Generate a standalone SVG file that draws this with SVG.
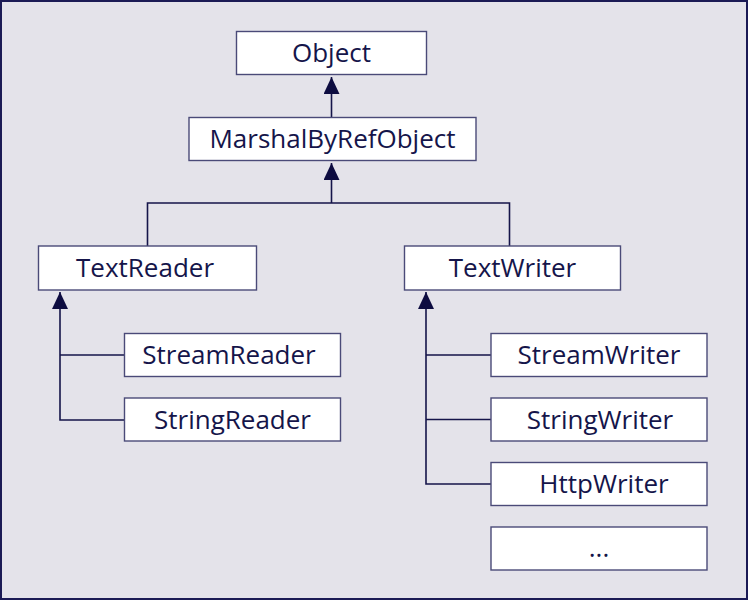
<svg xmlns="http://www.w3.org/2000/svg" width="748" height="600" viewBox="0 0 748 600">
<defs>
<style>
.bg{fill:#e4e3ea;stroke:#1b1a55;stroke-width:2}
.box{fill:#ffffff;stroke:#4a4a78;stroke-width:1.4}
.lbl{font-family:"Open Sans","Liberation Sans",sans-serif;font-size:26px;fill:#15154a;text-anchor:middle}
.con{fill:none;stroke:#15154a;stroke-width:1.6}
.inh{marker-end:url(#tri)}
</style>
<marker id="tri" viewBox="0 0 17 16" refX="17" refY="8" markerWidth="17" markerHeight="16" markerUnits="userSpaceOnUse" orient="auto">
<path d="M17 8 L0 0 L0 16 Z" fill="#0d0c40"/>
</marker>
</defs>
<rect class="bg" x="1" y="1" width="746" height="598"/>
<g id="connectors">
<path class="con inh" d="M331.5 117.5 V77"/>
<path class="con inh" d="M331.5 203 V163"/>
<path class="con" d="M147.5 246 V203 H509.5 V246"/>
<path class="con inh" d="M124 420 H60 V292"/>
<path class="con" d="M124 355 H60"/>
<path class="con inh" d="M491 484 H426 V292"/>
<path class="con" d="M491 355 H426 M491 419.5 H426"/>
</g>
<g id="n-object"><rect class="box" x="236.5" y="31.5" width="190" height="43"/><text class="lbl" x="331.5" y="62">Object</text></g>
<g id="n-marshal"><rect class="box" x="189" y="117.5" width="287" height="43"/><text class="lbl" x="332.5" y="148">MarshalByRefObject</text></g>
<g id="n-textreader"><rect class="box" x="38.5" y="246" width="218" height="44"/><text class="lbl" x="145" y="277">TextReader</text></g>
<g id="n-textwriter"><rect class="box" x="404.5" y="246" width="216" height="44"/><text class="lbl" x="512.5" y="277">TextWriter</text></g>
<g id="n-streamreader"><rect class="box" x="124.5" y="333.5" width="216" height="43"/><text class="lbl" x="229" y="364">StreamReader</text></g>
<g id="n-stringreader"><rect class="box" x="124.5" y="398" width="216" height="43"/><text class="lbl" x="232.5" y="429">StringReader</text></g>
<g id="n-streamwriter"><rect class="box" x="491" y="333.5" width="216" height="43"/><text class="lbl" x="599" y="364">StreamWriter</text></g>
<g id="n-stringwriter"><rect class="box" x="491" y="398" width="216" height="43"/><text class="lbl" x="600" y="429">StringWriter</text></g>
<g id="n-httpwriter"><rect class="box" x="491" y="462.5" width="216" height="43"/><text class="lbl" x="604" y="493">HttpWriter</text></g>
<g id="n-more"><rect class="box" x="491" y="527" width="216" height="43"/><text class="lbl" x="599" y="557">...</text></g>
</svg>
